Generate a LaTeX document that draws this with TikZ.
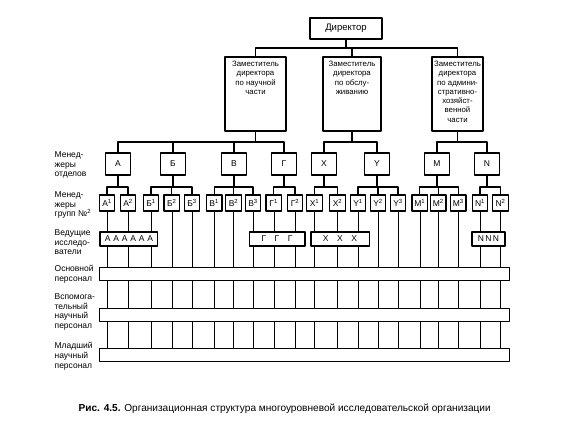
\documentclass[tikz,border=0pt]{standalone}
\usepackage{fontspec}
\setmainfont{Liberation Sans}
\usetikzlibrary{backgrounds}

\begin{document}
\begin{tikzpicture}[
  x=1pt,
  y=1pt,
  line join=round,
  line width=1.3pt,
  box/.style={draw, fill=white, inner sep=0pt, font=\fontsize{8.5}{10}\selectfont},
  dirbox/.style={box, minimum width=72pt, minimum height=21pt, font=\fontsize{9.5}{10}\selectfont},
  depbox/.style={box, minimum height=74pt},
  deptext/.style={anchor=north, align=center, inner sep=0pt, font=\fontsize{7.8}{9.3}\selectfont},
  unitbox/.style={box, minimum width=25pt, minimum height=22pt},
  grpbox/.style={box, minimum width=15.5pt, minimum height=16pt},
  leadbox/.style={box, minimum height=14pt},
  barbox/.style={box, minimum width=410pt, minimum height=13pt},
  rowlabel/.style={anchor=north west, align=left, inner sep=0pt, font=\fontsize{8.5}{9.6}\selectfont}
]
  \useasboundingbox (0,0) rectangle (576,444);

  % Уровни шин
  \coordinate (busdir) at (0,396);
  \coordinate (busdep) at (0,302);
  \coordinate (busgrp) at (0,257);

  % Директор и заместители
  \node[dirbox] (dir) at (346,415.5) {Директор};

  \node[depbox, minimum width=61pt] (dep1) at (255.5,350) {};
  \node[depbox, minimum width=58pt] (dep2) at (352,350) {};
  \node[depbox, minimum width=51pt] (dep3) at (457.5,350) {};

  \node[deptext] (dep1t) at ([yshift=-4pt]dep1.north)
    {Заместитель\\директора\\по научной\\части};
  \node[deptext] (dep2t) at ([yshift=-4pt]dep2.north)
    {Заместитель\\директора\\по обслу-\\живанию};
  \node[deptext] (dep3t) at ([yshift=-4pt]dep3.north)
    {Заместитель\\директора\\по админи-\\стративно-\\хозяйст-\\венной\\части};

  \draw (dir.south) -- (dir.south |- busdir);
  \draw (dep1.north) -- (dep1.north |- busdir) -- (dep3.north |- busdir) -- (dep3.north);
  \draw (dep2.north) -- (dep2.north |- busdir);

  % Менеджеры отделов
  \node[unitbox] (ua) at (118,280) {А};
  \node[unitbox] (ub) at (173,280) {Б};
  \node[unitbox] (uv) at (234,280) {В};
  \node[unitbox] (ug) at (284,280) {Г};
  \node[unitbox] (ux) at (324,280) {X};
  \node[unitbox] (uy) at (377,280) {Y};
  \node[unitbox] (um) at (437,280) {M};
  \node[unitbox] (un) at (487,280) {N};

  \draw (dep1.south) -- (dep1.south |- busdep);
  \draw (ua.north) -- (ua.north |- busdep) -- (ug.north |- busdep) -- (ug.north);
  \draw (ub.north) -- (ub.north |- busdep);
  \draw (uv.north) -- (uv.north |- busdep);

  \draw (dep2.south) -- (dep2.south |- busdep);
  \draw (ux.north) -- (ux.north |- busdep) -- (uy.north |- busdep) -- (uy.north);

  \draw (dep3.south) -- (dep3.south |- busdep);
  \draw (um.north) -- (um.north |- busdep) -- (un.north |- busdep) -- (un.north);

  % Менеджеры групп
  \node[grpbox] (a1) at (107,241) {А\textsuperscript{1}};
  \node[grpbox] (a2) at (128,241) {А\textsuperscript{2}};
  \node[grpbox] (b1) at (151,241) {Б\textsuperscript{1}};
  \node[grpbox] (b2) at (171.7,241) {Б\textsuperscript{2}};
  \node[grpbox] (b3) at (192,241) {Б\textsuperscript{3}};
  \node[grpbox] (v1) at (214.2,241) {В\textsuperscript{1}};
  \node[grpbox] (v2) at (233.5,241) {В\textsuperscript{2}};
  \node[grpbox] (v3) at (253,241) {В\textsuperscript{3}};
  \node[grpbox] (g1) at (273.7,241) {Г\textsuperscript{1}};
  \node[grpbox] (g2) at (295,241) {Г\textsuperscript{2}};
  \node[grpbox] (x1) at (314.5,241) {X\textsuperscript{1}};
  \node[grpbox] (x2) at (337.5,241) {X\textsuperscript{2}};
  \node[grpbox] (y1) at (358,241) {Y\textsuperscript{1}};
  \node[grpbox] (y2) at (378,241) {Y\textsuperscript{2}};
  \node[grpbox] (y3) at (398,241) {Y\textsuperscript{3}};
  \node[grpbox] (m1) at (419.7,241) {M\textsuperscript{1}};
  \node[grpbox] (m2) at (438.3,241) {M\textsuperscript{2}};
  \node[grpbox] (m3) at (458.3,241) {M\textsuperscript{3}};
  \node[grpbox] (n1) at (480,241) {N\textsuperscript{1}};
  \node[grpbox] (n2) at (500.5,241) {N\textsuperscript{2}};

  \draw (ua.south) -- (ua.south |- busgrp);
  \draw (a1.north) -- (a1.north |- busgrp) -- (a2.north |- busgrp) -- (a2.north);
  \draw (ub.south) -- (ub.south |- busgrp);
  \draw (b1.north) -- (b1.north |- busgrp) -- (b3.north |- busgrp) -- (b3.north);
  \draw (b2.north) -- (b2.north |- busgrp);
  \draw (uv.south) -- (uv.south |- busgrp);
  \draw (v1.north) -- (v1.north |- busgrp) -- (v3.north |- busgrp) -- (v3.north);
  \draw (v2.north) -- (v2.north |- busgrp);
  \draw (ug.south) -- (ug.south |- busgrp);
  \draw (g1.north) -- (g1.north |- busgrp) -- (g2.north |- busgrp) -- (g2.north);
  \draw (ux.south) -- (ux.south |- busgrp);
  \draw (x1.north) -- (x1.north |- busgrp) -- (x2.north |- busgrp) -- (x2.north);
  \draw (uy.south) -- (uy.south |- busgrp);
  \draw (y1.north) -- (y1.north |- busgrp) -- (y3.north |- busgrp) -- (y3.north);
  \draw (y2.north) -- (y2.north |- busgrp);
  \draw (um.south) -- (um.south |- busgrp);
  \draw (m1.north) -- (m1.north |- busgrp) -- (m3.north |- busgrp) -- (m3.north);
  \draw (m2.north) -- (m2.north |- busgrp);
  \draw (un.south) -- (un.south |- busgrp);
  \draw (n1.north) -- (n1.north |- busgrp) -- (n2.north |- busgrp) -- (n2.north);

  % Ведущие исследователи
  \node[leadbox, minimum width=57.7pt] (leada) at (128.9,205) {А\,\,А\,\,А\,\,А\,\,А\,\,А};
  \node[leadbox, minimum width=55.7pt] (leadg) at (277,205) {Г\quad Г\quad Г};
  \node[leadbox, minimum width=58.3pt] (leadx) at (340,205) {X\quad X\quad X};
  \node[leadbox, minimum width=33pt] (leadn) at (488.5,205) {N\,N\,N};

  % Персонал
  \node[barbox] (bar1) at (304.4,169.8) {};
  \node[barbox] (bar2) at (304.4,129) {};
  \node[barbox] (bar3) at (304.4,89) {};

  % Вертикальные линии групп
  \begin{scope}[on background layer]
    \foreach \g in {a1,a2,b1,b2,b3,v1,v2,v3,g1,g2,x1,x2,y1,y2,y3,m1,m2,m3,n1,n2}
      \draw (\g.south) -- (\g.south |- bar3.center);
  \end{scope}

  % Подписи уровней
  \node[rowlabel] (l1) at (54,293) {Менед-\\жеры\\отделов};
  \node[rowlabel] (l2) at (54,253) {Менед-\\жеры\\групп №\textsuperscript{2}};
  \node[rowlabel] (l3) at (54,215) {Ведущие\\исследо-\\ватели};
  \node[rowlabel] (l4) at (54,179) {Основной\\персонал};
  \node[rowlabel] (l5) at (54,151) {Вспомога-\\тельный\\научный\\персонал};
  \node[rowlabel] (l6) at (54,102) {Младший\\научный\\персонал};

  % Подпись рисунка
  \node[anchor=west, inner sep=0pt, font=\fontsize{10.1}{12}\selectfont] (caption) at (78,35)
    {\textbf{Рис. 4.5.} Организационная структура многоуровневой исследовательской организации};
\end{tikzpicture}
\end{document}
